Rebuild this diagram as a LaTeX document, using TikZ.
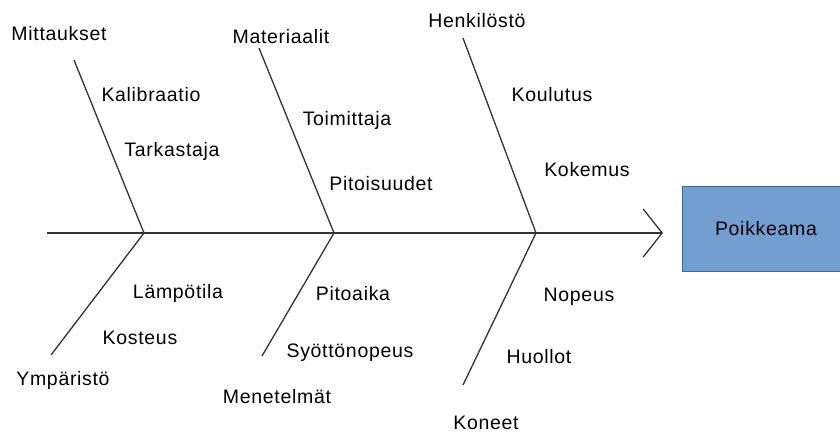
\documentclass[tikz,border=0pt]{standalone}
\usepackage{fontspec}
\setmainfont{Liberation Sans}[LetterSpace=3.5]
\usetikzlibrary{arrows.meta}

\definecolor{boxfill}{HTML}{729FCF}
\definecolor{boxline}{HTML}{3465A4}

\tikzset{
  bone/.style={line width=1.3pt, black!80},
  lbl/.style={font=\fontsize{19.5}{23}\selectfont, inner sep=0pt, anchor=base},
  effect/.style={draw=boxline, fill=boxfill, line width=0.8pt, minimum width=168pt, minimum height=85pt, font=\fontsize{19.5}{23}\selectfont}
}

\begin{document}
\begin{tikzpicture}[x=1pt,y=-1pt]
    \useasboundingbox (0,0) rectangle (840,432);
    % spine
    \coordinate (tail) at (47,233);
    \coordinate (head) at (663,233);
    \coordinate (j1) at (144,233);
    \coordinate (j2) at (334,233);
    \coordinate (j3) at (536,233);
    \draw[bone, -{Straight Barb[length=19pt,width=48pt,line width=1.3pt]}] (tail) -- (head);
    % bone ends
    \coordinate (mit) at (74,60);
    \coordinate (mat) at (259,48);
    \coordinate (hen) at (463,38);
    \coordinate (ymp) at (51,355);
    \coordinate (men) at (262,356);
    \coordinate (kon) at (463,385);
    \draw[bone] (mit) -- (j1);
    \draw[bone] (mat) -- (j2);
    \draw[bone] (hen) -- (j3);
    \draw[bone] (ymp) -- (j1);
    \draw[bone] (men) -- (j2);
    \draw[bone] (kon) -- (j3);
    % causes
    \node[lbl] (mittaukset) at (59,40) {Mittaukset};
    \node[lbl] (kalibraatio) at (151,101) {Kalibraatio};
    \node[lbl] (tarkastaja) at (172,156) {Tarkastaja};
    \node[lbl] (materiaalit) at (281,43) {Materiaalit};
    \node[lbl] (toimittaja) at (347,125) {Toimittaja};
    \node[lbl] (pitoisuudet) at (381,190) {Pitoisuudet};
    \node[lbl] (henkilosto) at (477,27) {Henkilöstö};
    \node[lbl] (koulutus) at (552,101) {Koulutus};
    \node[lbl] (kokemus) at (587,176) {Kokemus};
    \node[lbl] (lampotila) at (178,298) {Lämpötila};
    \node[lbl] (kosteus) at (140,344) {Kosteus};
    \node[lbl] (ymparisto) at (63,385) {Ympäristö};
    \node[lbl] (pitoaika) at (353,300) {Pitoaika};
    \node[lbl] (syottonopeus) at (350,357) {Syöttönopeus};
    \node[lbl] (menetelmat) at (277,403) {Menetelmät};
    \node[lbl] (nopeus) at (579,301) {Nopeus};
    \node[lbl] (huollot) at (539,363) {Huollot};
    \node[lbl] (koneet) at (486,429) {Koneet};
    % effect
    \node[effect] (poikkeama) at (766,228.5) {Poikkeama};
\end{tikzpicture}
\end{document}
